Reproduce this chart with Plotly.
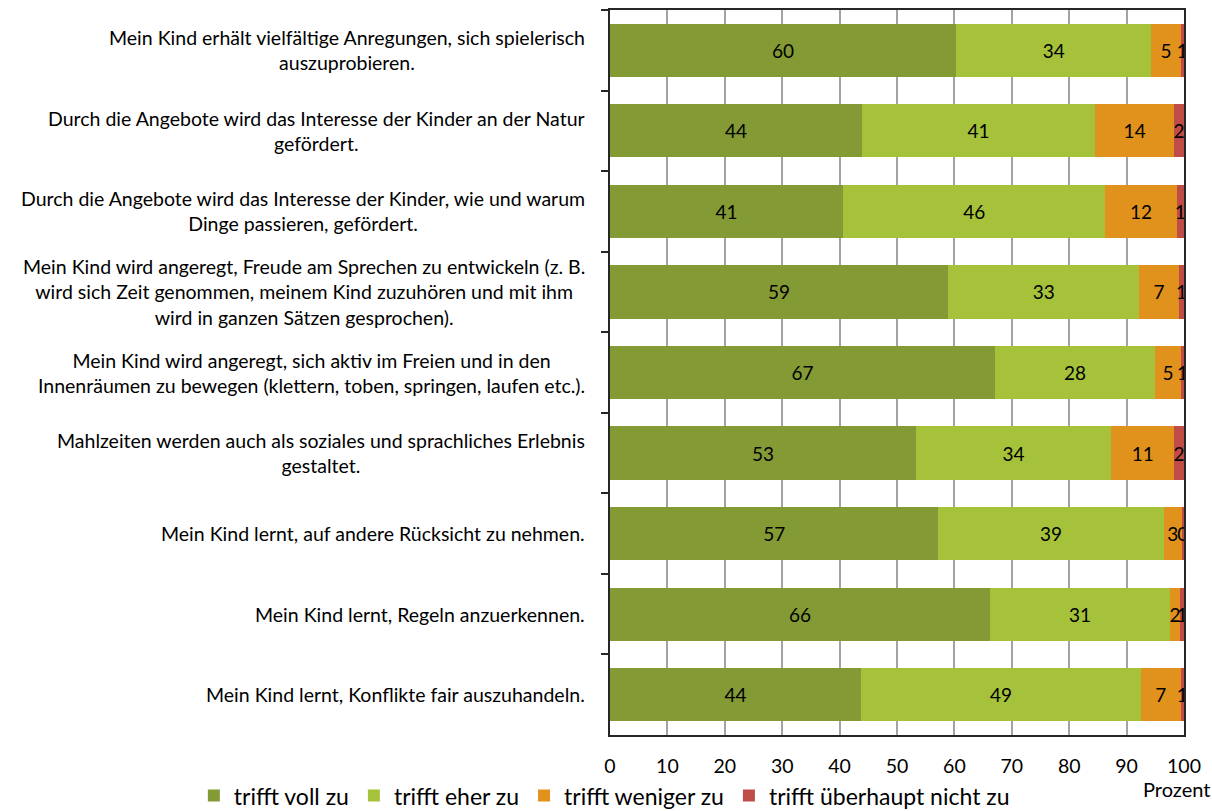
import plotly.graph_objects as go

# Aussagen (Kategorien), von oben nach unten
aussagen = [
    "Mein Kind erhält vielfältige Anregungen, sich spielerisch<br>auszuprobieren.",
    "Durch die Angebote wird das Interesse der Kinder an der Natur<br>gefördert.",
    "Durch die Angebote wird das Interesse der Kinder, wie und warum<br>Dinge passieren, gefördert.",
    "Mein Kind wird angeregt, Freude am Sprechen zu entwickeln (z. B.<br>wird sich Zeit genommen, meinem Kind zuzuhören und mit ihm<br>wird in ganzen Sätzen gesprochen).",
    "Mein Kind wird angeregt, sich aktiv im Freien und in den<br>Innenräumen zu bewegen (klettern, toben, springen, laufen etc.).",
    "Mahlzeiten werden auch als soziales und sprachliches Erlebnis<br>gestaltet.",
    "Mein Kind lernt, auf andere Rücksicht zu nehmen.",
    "Mein Kind lernt, Regeln anzuerkennen.",
    "Mein Kind lernt, Konflikte fair auszuhandeln.",
]

# Anteile in Prozent je Antwortkategorie
voll_zu = [60.3, 43.9, 40.6, 58.9, 67.1, 53.3, 57.2, 66.2, 43.7]
eher_zu = [34.0, 40.6, 45.7, 33.3, 27.8, 34.0, 39.3, 31.4, 48.8]
weniger_zu = [5.1, 13.8, 12.4, 6.9, 4.6, 11.0, 3.1, 1.7, 6.9]
nicht_zu = [0.6, 1.7, 1.3, 0.9, 0.5, 1.7, 0.4, 0.7, 0.6]

serien = [
    ("trifft voll zu", voll_zu, "#849A34"),
    ("trifft eher zu", eher_zu, "#A5C23A"),
    ("trifft weniger zu", weniger_zu, "#E0921C"),
    ("trifft überhaupt nicht zu", nicht_zu, "#BF4C46"),
]

x_ticks = list(range(0, 101, 10))

FONT = "Lato"

fig = go.Figure()
for name, werte, farbe in serien:
    fig.add_trace(go.Bar(
        name=name,
        y=aussagen,
        x=werte,
        orientation="h",
        marker=dict(color=farbe, line=dict(width=0)),
        texttemplate="%{x:.0f}",
        textposition="inside",
        insidetextanchor="middle",
        textfont=dict(color="black", size=19, family=FONT),
        hoverinfo="skip",
    ))

# Beschriftung der Aussagen links, zentriert mehrzeilig
for a in aussagen:
    fig.add_annotation(
        x=0, xref="paper", y=a, yref="y",
        text=a, showarrow=False,
        xanchor="right", yanchor="middle", align="center",
        xshift=-23,
        font=dict(size=19.5, color="black", family=FONT),
    )

# Achsentitel rechts unter der Skala
fig.add_annotation(
    x=1.0, xref="paper", y=-0.075, yref="paper",
    text="Prozent", showarrow=False,
    xanchor="right", yanchor="middle",
    xshift=28,
    font=dict(size=20, color="black", family=FONT),
)

fig.update_layout(
    width=1212, height=811,
    barmode="stack",
    bargap=0.34,
    margin=dict(l=610, r=28, t=10, b=76, autoexpand=False),
    paper_bgcolor="white",
    plot_bgcolor="white",
    font=dict(family=FONT, color="black"),
    uniformtext=dict(minsize=19, mode="show"),
    showlegend=True,
    legend=dict(
        orientation="h",
        x=-0.725, xanchor="left",
        y=-0.054, yanchor="top",
        font=dict(size=23, family=FONT),
        traceorder="normal",
        itemwidth=30,
        tracegroupgap=0,
    ),
    xaxis=dict(
        range=[0, 100],
        tickvals=x_ticks,
        ticks="",
        showgrid=True, gridcolor="#A3A3A3", gridwidth=1.5,
        showline=True, linecolor="#262626", linewidth=1.5, mirror=True,
        tickfont=dict(size=19.5, family=FONT),
        ticklabelstandoff=13,
        zeroline=False,
        fixedrange=True,
    ),
    yaxis=dict(
        type="category",
        categoryorder="array", categoryarray=aussagen,
        range=[8.5, -0.5],
        showticklabels=False,
        ticks="outside", ticklen=7, tickcolor="#262626", tickwidth=1.5,
        tickson="boundaries",
        showgrid=False,
        showline=True, linecolor="#262626", linewidth=1.5, mirror=True,
        fixedrange=True,
    ),
)

fig.write_html("out.html")
